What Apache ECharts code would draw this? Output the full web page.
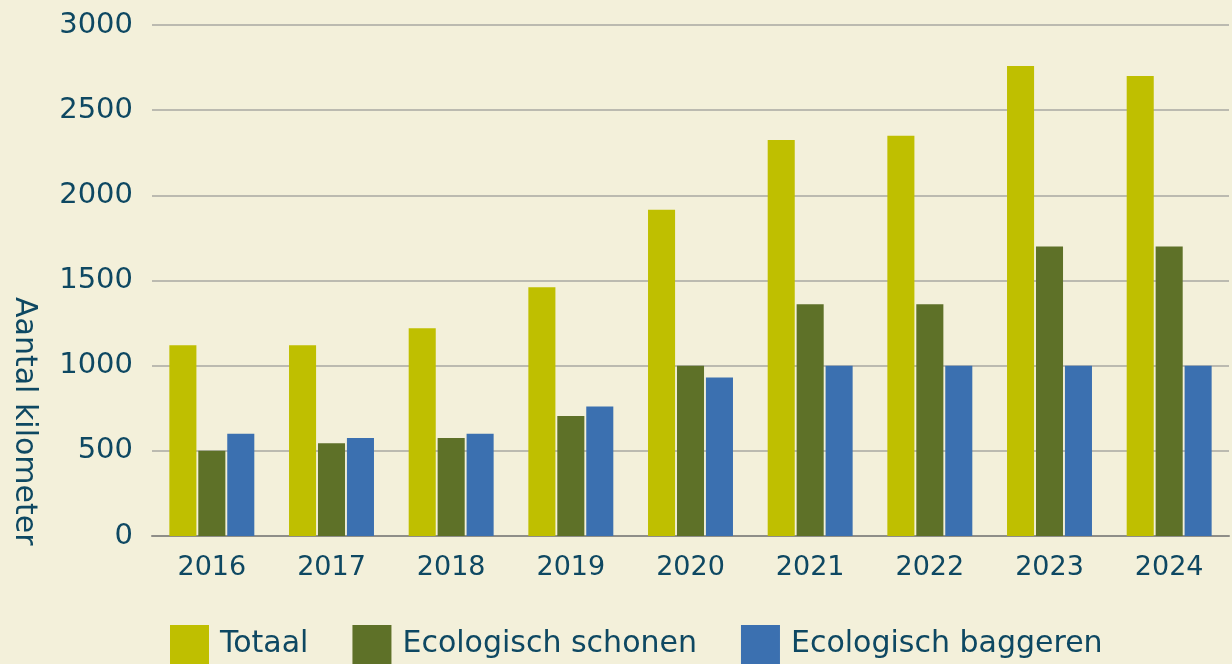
<!DOCTYPE html>
<html>
<head>
<meta charset="utf-8">
<script src="https://cdn.jsdelivr.net/npm/echarts@6/dist/echarts.min.js"></script>
<style>
  html, body { margin: 0; padding: 0; background: #f3f0da; }
  #chart { width: 1232px; height: 664px; }
</style>
</head>
<body>
<div id="chart"></div>
<script>
// data
const years = ['2016', '2017', '2018', '2019', '2020', '2021', '2022', '2023', '2024'];
const totaal = [1120, 1120, 1220, 1460, 1915, 2325, 2350, 2760, 2700];
const schonen = [500, 545, 575, 705, 1000, 1360, 1360, 1700, 1700];
const baggeren = [600, 575, 600, 760, 930, 1000, 1000, 1000, 1000];
const seriesNames = ['Totaal', 'Ecologisch schonen', 'Ecologisch baggeren'];

const textColor = '#0e4862';
const font = 'DejaVu Sans';

const chart = echarts.init(document.getElementById('chart'));

chart.setOption({
  backgroundColor: '#f3f0da',
  animation: false,
  textStyle: { fontFamily: font, color: textColor },
  grid: { left: 152, right: 3, top: 25, bottom: 128 },
  legend: {
    left: 170,
    top: 625,
    padding: 0,
    itemWidth: 39,
    itemHeight: 39,
    itemGap: 44,
    icon: 'rect',
    data: seriesNames,
    textStyle: { fontFamily: font, fontSize: 30, color: textColor, padding: [10, 0, 0, 6] }
  },
  graphic: [{
    type: 'text',
    left: 9,
    top: 297,
    rotation: -Math.PI / 2,
    style: {
      text: 'Aantal kilometer',
      font: '30px "DejaVu Sans"',
      fill: textColor
    }
  }],
  xAxis: {
    type: 'category',
    data: years,
    axisTick: { show: false },
    axisLine: { lineStyle: { color: '#8e8e88', width: 2 } },
    axisLabel: { fontSize: 27, color: textColor, margin: 18 }
  },
  yAxis: {
    type: 'value',
    min: 0,
    max: 3000,
    interval: 500,
    axisLine: { show: false },
    axisTick: { show: false },
    splitLine: { lineStyle: { color: '#a9a9a2', width: 1.5 } },
    axisLabel: { fontSize: 29, color: textColor, margin: 19, formatter: v => String(v) }
  },
  series: [
    { name: seriesNames[0], type: 'bar', data: totaal, itemStyle: { color: '#bfbf00' }, barGap: '7%', barCategoryGap: '29%' },
    { name: seriesNames[1], type: 'bar', data: schonen, itemStyle: { color: '#5e7128' } },
    { name: seriesNames[2], type: 'bar', data: baggeren, itemStyle: { color: '#3b70b0' } }
  ]
});
</script>
</body>
</html>
